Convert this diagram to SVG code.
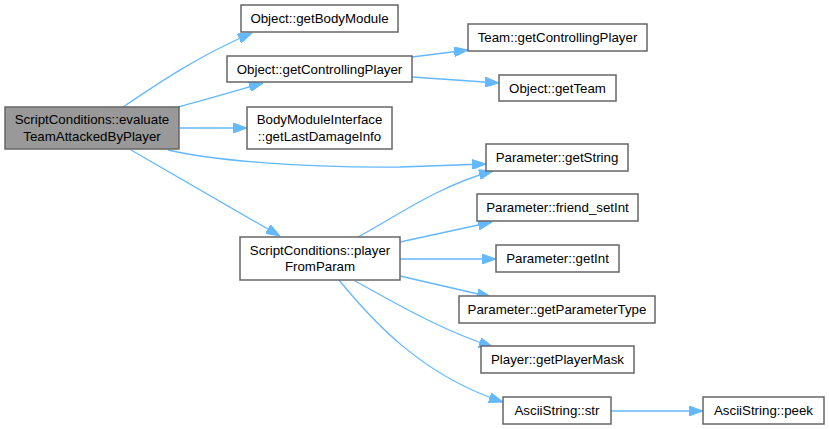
<svg xmlns="http://www.w3.org/2000/svg" width="829" height="429" viewBox="0 0 829 429">
<style>
.n rect{fill:#ffffff;stroke:#666666;stroke-width:1.5}
.n.main rect{fill:#999999}
.n text{font-family:"Liberation Sans",Arial,sans-serif;font-size:13.3px;fill:#000000;text-anchor:middle}
.e path{fill:none;stroke:#63b8ff;stroke-width:1.3;marker-end:url(#ah)}
</style>
<defs>
<marker id="ah" markerUnits="userSpaceOnUse" markerWidth="14" markerHeight="10" refX="14" refY="5" orient="auto" viewBox="0 0 14 10">
<path d="M0,0 L14,5 L0,10 z" fill="#63b8ff" stroke="#63b8ff" stroke-width="1"/>
</marker>
</defs>
<rect width="829" height="429" fill="#ffffff"/>
<g id="connectors" class="e">
<path d="M123,107 C160,82 200,55 252,33"/>
<path d="M178,107 C205,100 235,91 263,83"/>
<path d="M180,128 L247,128"/>
<path d="M168,150 C210,160 300,168 400,167 L486,164"/>
<path d="M131,150 L280,236"/>
<path d="M412,57 L468,50"/>
<path d="M412,77 L499,83"/>
<path d="M358,237 C395,217 440,185 493,171"/>
<path d="M400,242 L492,222"/>
<path d="M400,259 L496,259"/>
<path d="M400,276 L491,297"/>
<path d="M355,281 C390,300 440,330 493,347"/>
<path d="M339,280 C370,318 420,375 503,402"/>
<path d="M611,411 L703,411"/>
</g>
<g id="n_main" class="n main"><rect x="5" y="107" width="174" height="42"/><text x="92" y="124">ScriptConditions::evaluate</text><text x="92" y="141">TeamAttackedByPlayer</text></g>
<g id="n_getBodyModule" class="n"><rect x="241" y="5" width="157" height="27"/><text x="319.5" y="23">Object::getBodyModule</text></g>
<g id="n_getControllingPlayer" class="n"><rect x="227" y="56" width="185" height="26"/><text x="319.5" y="74">Object::getControllingPlayer</text></g>
<g id="n_getLastDamageInfo" class="n"><rect x="247" y="107" width="145" height="42"/><text x="319.5" y="124">BodyModuleInterface</text><text x="319.5" y="141">::getLastDamageInfo</text></g>
<g id="n_playerFromParam" class="n"><rect x="240" y="237" width="160" height="43"/><text x="320" y="255">ScriptConditions::player</text><text x="320" y="271">FromParam</text></g>
<g id="n_teamGetControllingPlayer" class="n"><rect x="468" y="24" width="179" height="27"/><text x="557.5" y="42">Team::getControllingPlayer</text></g>
<g id="n_getTeam" class="n"><rect x="499" y="75" width="117" height="26"/><text x="557.5" y="93">Object::getTeam</text></g>
<g id="n_getString" class="n"><rect x="486" y="144" width="142" height="27"/><text x="557" y="162">Parameter::getString</text></g>
<g id="n_friendSetInt" class="n"><rect x="477" y="194" width="161" height="27"/><text x="557.5" y="212">Parameter::friend_setInt</text></g>
<g id="n_getInt" class="n"><rect x="496" y="245" width="123" height="27"/><text x="557.5" y="263">Parameter::getInt</text></g>
<g id="n_getParameterType" class="n"><rect x="459" y="296" width="196" height="27"/><text x="557" y="314">Parameter::getParameterType</text></g>
<g id="n_getPlayerMask" class="n"><rect x="481" y="346" width="153" height="27"/><text x="557.5" y="364">Player::getPlayerMask</text></g>
<g id="n_str" class="n"><rect x="503" y="397" width="108" height="27"/><text x="557" y="415">AsciiString::str</text></g>
<g id="n_peek" class="n"><rect x="703" y="397" width="121" height="27"/><text x="763.5" y="415">AsciiString::peek</text></g>
</svg>
